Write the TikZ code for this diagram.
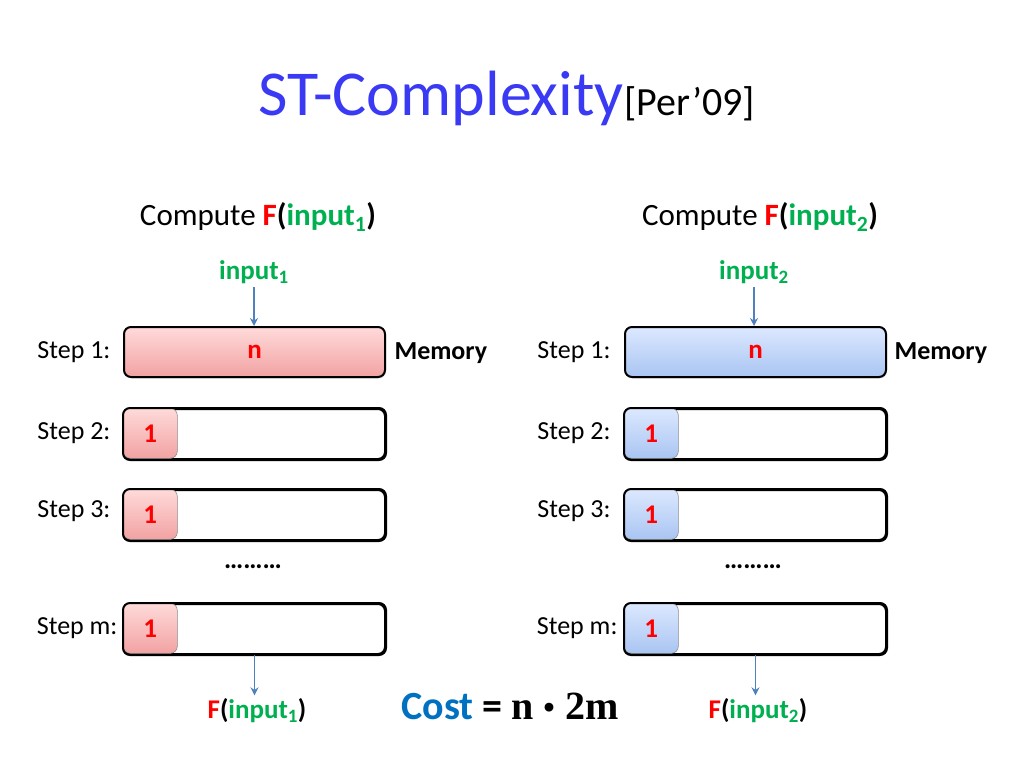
\documentclass[tikz,border=0pt]{standalone}
\usepackage{fontspec}
\setmainfont{Carlito}
\newfontfamily\mathish{Liberation Serif}
\usetikzlibrary{arrows.meta,shadows}
\definecolor{tblue}{HTML}{3A3AF4}
\definecolor{fred}{HTML}{FF0000}
\definecolor{igreen}{HTML}{00B050}
\definecolor{cblue}{HTML}{0070C0}
\definecolor{arr}{HTML}{4F81BD}
\definecolor{rtop}{HTML}{FFDADA}
\definecolor{rbot}{HTML}{F2A2A2}
\definecolor{btop}{HTML}{DCE8FF}
\definecolor{bbot}{HTML}{A9C5F2}
\newcommand{\Fx}{\textcolor{fred}{\textbf{F}}}
\newcommand{\inp}[1]{\textcolor{igreen}{\textbf{input\textsubscript{#1}}}}
\begin{document}
\begin{tikzpicture}[x=1pt,y=-1pt,
  membox/.style={draw=black,line width=2pt,rounded corners=7pt,minimum width=261pt,minimum height=50pt,anchor=north west,inner sep=0pt},
  redfill/.style={top color=rtop,bottom color=rbot},
  bluefill/.style={top color=btop,bottom color=bbot},
  cell/.style={draw=black!45,line width=0.6pt,rounded corners=7pt,minimum width=54pt,minimum height=50pt,anchor=north west,inner sep=0pt,font=\fontsize{27}{27}\selectfont\bfseries\color{fred}},
  steplbl/.style={anchor=east,font=\fontsize{26}{28}\selectfont},
  memlbl/.style={anchor=west,font=\fontsize{26}{28}\selectfont\bfseries},
  head/.style={font=\fontsize{31}{33}\selectfont},
  sml/.style={font=\fontsize{27}{29}\selectfont},
  flow/.style={draw=arr,line width=1.8pt,-{Stealth[length=8pt,width=8pt]}}
]
\useasboundingbox (0,0) rectangle (1024,768);
\node[anchor=base east,text=tblue,font=\fontsize{64}{68}\selectfont,inner sep=0pt] (title) at (624,115) {ST-Complexity};
\node[anchor=base west,font=\fontsize{40}{42}\selectfont,inner sep=0pt] (cite) at (title.base east) {[Per’09]};

% headings
\node[head] (hL) at (258,217) {Compute \Fx\textbf{(}\inp{1}\textbf{)}};
\node[head] (hR) at (760,217) {Compute \Fx\textbf{(}\inp{2}\textbf{)}};
\node[sml] (iL) at (254,272) {\inp{1}};
\node[sml] (iR) at (754,272) {\inp{2}};

% left column
\node[membox,redfill,drop shadow={shadow xshift=1pt,shadow yshift=-1.5pt,opacity=0.25}] (L1) at (123,326) {};
\node[font=\fontsize{27}{27}\selectfont\bfseries\color{fred}] at (L1.center) {n};
\node[membox,fill=white] (L2) at (123,408) {};
\node[membox,fill=white] (L3) at (123,489) {};
\node[membox,fill=white] (Lm) at (123,603) {};
\node[cell,redfill] (L2c) at (123,408) {1};
\node[cell,redfill] (L3c) at (123,489) {1};
\node[cell,redfill] (Lmc) at (123,603) {1};
\draw[line width=2pt,rounded corners=7pt] (L2.south west) rectangle (L2.north east);
\draw[line width=2pt,rounded corners=7pt] (L3.south west) rectangle (L3.north east);
\draw[line width=2pt,rounded corners=7pt] (Lm.south west) rectangle (Lm.north east);

% right column
\node[membox,bluefill,drop shadow={shadow xshift=1pt,shadow yshift=-1.5pt,opacity=0.25}] (R1) at (624,326) {};
\node[font=\fontsize{27}{27}\selectfont\bfseries\color{fred}] at (R1.center) {n};
\node[membox,fill=white] (R2) at (624,408) {};
\node[membox,fill=white] (R3) at (624,489) {};
\node[membox,fill=white] (Rm) at (624,603) {};
\node[cell,bluefill] (R2c) at (624,408) {1};
\node[cell,bluefill] (R3c) at (624,489) {1};
\node[cell,bluefill] (Rmc) at (624,603) {1};
\draw[line width=2pt,rounded corners=7pt] (R2.south west) rectangle (R2.north east);
\draw[line width=2pt,rounded corners=7pt] (R3.south west) rectangle (R3.north east);
\draw[line width=2pt,rounded corners=7pt] (Rm.south west) rectangle (Rm.north east);

% step labels
\node[steplbl] (sL1) at (114,352) {Step 1:};
\node[steplbl] (sL2) at (114,433) {Step 2:};
\node[steplbl] (sL3) at (114,511) {Step 3:};
\node[steplbl] (sLm) at (121,628) {Step m:};
\node[steplbl] (sR1) at (614,352) {Step 1:};
\node[steplbl] (sR2) at (614,433) {Step 2:};
\node[steplbl] (sR3) at (614,511) {Step 3:};
\node[steplbl] (sRm) at (621,628) {Step m:};
\node[memlbl] (mL) at (391,353) {Memory};
\node[memlbl] (mR) at (891,353) {Memory};

\node[font=\fontsize{27}{29}\selectfont\bfseries] (dL) at (253,567) {………};
\node[font=\fontsize{27}{29}\selectfont\bfseries] (dR) at (753,567) {………};

% outputs
\node[sml] (oL) at (257,711) {\Fx\textbf{(}\inp{1}\textbf{)}};
\node[sml] (oR) at (758,711) {\Fx\textbf{(}\inp{2}\textbf{)}};
\node[font=\fontsize{40}{42}\selectfont] (cost) at (510,709) {\textcolor{cblue}{\textbf{Cost}} \textbf{=} {\mathish\bfseries n\,\raisebox{-0.3ex}{\scalebox{1.35}{·}}\,2m}};

% arrows
\draw[flow] (iL.south) -- (L1.north -| iL.south);
\draw[flow] (iR.south) -- (R1.north -| iR.south);
\draw[flow] (Lm.south) -- (oL.north -| Lm.south);
\draw[flow] (Rm.south) -- (oR.north -| Rm.south);
\end{tikzpicture}
\end{document}
